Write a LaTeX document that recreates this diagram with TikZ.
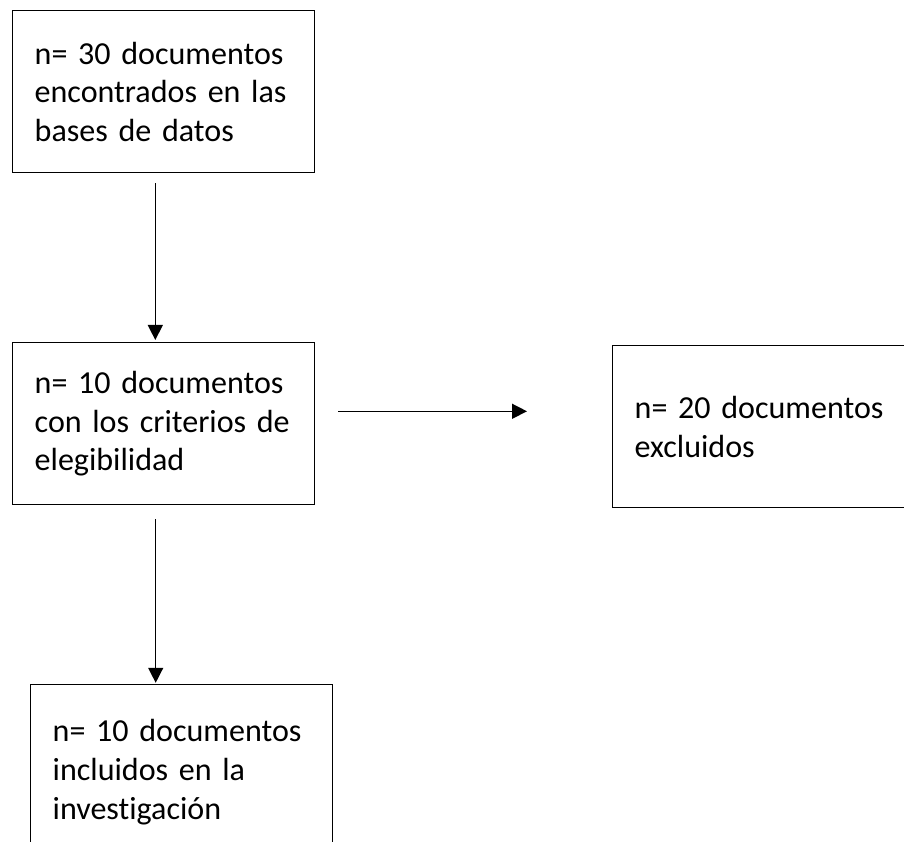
\documentclass[tikz,border=0pt]{standalone}
\usepackage{fontspec}
\setmainfont{Carlito}[Ligatures = NoCommon]
\usetikzlibrary{arrows.meta}

\begin{document}
\begin{tikzpicture} [scale = 1, docbox/.style = {draw = black, line width = 1pt, rectangle, anchor = north west, align = left, inner xsep = 0.55cm, inner ysep = 0cm, text width = 6.45cm, minimum height = 4.05cm, font = \fontsize{22.8}{27.5}\selectfont}, flow/.style = {black, line width = 1pt, -{Triangle[length = 0.375cm, width = 0.375cm]}}]
\useasboundingbox (0, 0) rectangle (22.6, 21.05);
\clip (0, 0) rectangle (22.6, 21.05);
\node[docbox] (found) at (0.3, 20.8){n= 30 documentos\\encontrados en las\\bases de datos};
\node[docbox] (eligible) at (0.3, 12.5){n= 10 documentos\\con los criterios de\\elegibilidad};
\node[docbox] (excluded) at (15.3, 12.425){n= 20 documentos\\excluidos};
\node[docbox, minimum height = 4.375cm] (included) at (0.75, 3.95){n= 10 documentos\\incluidos en la\\investigación};
\draw[flow, shorten <= 0.25cm, shorten >= 0.05cm] ([xshift = -0.21cm]found.south) -- ([xshift = -0.21cm]eligible.north);
\draw[flow, shorten <= 0.575cm, shorten >= 2.125cm] ([yshift = 0.31cm]eligible.east) -- ([yshift = 0.31cm]eligible.east -| excluded.west);
\draw[flow, shorten <= 0.35cm, shorten >= 0.03cm] ([xshift = -0.2cm]eligible.south) -- ([xshift = -0.2cm]eligible.south |- included.north);
\end{tikzpicture}
\end{document}
